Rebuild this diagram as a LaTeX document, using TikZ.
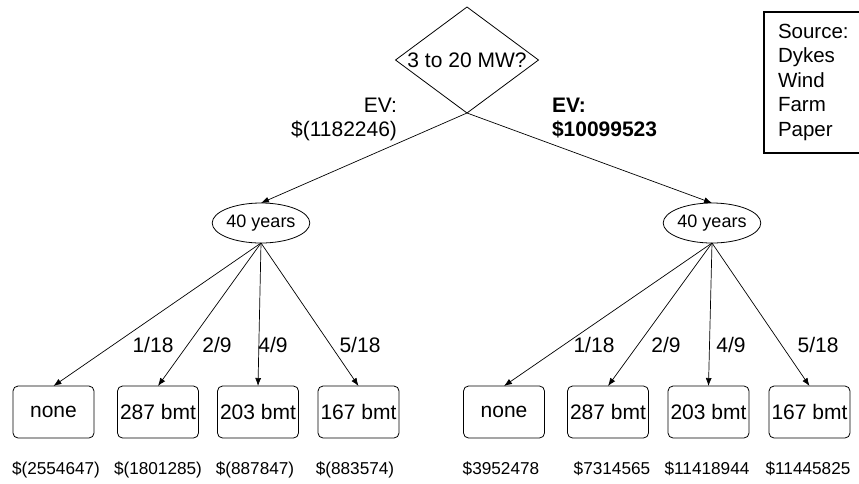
\documentclass[tikz,border=0pt]{standalone}
\usepackage{fontspec}
\setmainfont{Liberation Sans}
\usetikzlibrary{shapes.geometric,arrows.meta}
\begin{document}
\begin{tikzpicture}[x=1pt,y=-1pt,
  every node/.style={inner sep=0pt, outer sep=0pt},
  main/.style={font=\fontsize{21}{24}\selectfont},
  decision/.style={diamond, draw, line width=0.8pt, minimum width=143pt, minimum height=106pt},
  chance/.style={ellipse, draw, line width=0.8pt, minimum width=88pt, minimum height=40pt, font=\fontsize{18}{21}\selectfont},
  outcome/.style={rectangle, draw, rounded corners=5pt, line width=0.8pt, minimum width=81pt, minimum height=52pt, main},
  val/.style={anchor=base, font=\fontsize{17.2}{20}\selectfont},
  prob/.style={main},
  conn/.style={draw, line width=0.7pt, -{Latex[length=8pt,width=6pt]}}
]
\useasboundingbox (0,0) rectangle (859,483);
\clip (0,0) rectangle (859,483);

% decision
\node[decision, label={[main]center:3 to 20 MW?}] (q) at (467,60) {};

% source box
\node[draw, line width=2pt, anchor=north west, align=left, text width=110pt,
      inner xsep=14pt, inner ysep=12pt, font=\fontsize{20.5}{24.5}\selectfont]
      (src) at (764,12) {Source:\\Dykes\\Wind\\Farm\\Paper};

% EV labels
\node[main, anchor=base east] (evl1) at (397,112) {EV:};
\node[main, anchor=base east] (evl2) at (397,136) {\$(1182246)};
\node[anchor=base west, font=\fontsize{21}{24}\selectfont\bfseries] (evr1) at (552,112) {EV:};
\node[anchor=base west, font=\fontsize{21}{24}\selectfont\bfseries] (evr2) at (552,136) {\$10099523};

% chance nodes
\node[chance] (cl) at (261,223) {40 years};
\node[chance] (cr) at (712,223) {40 years};

% outcome boxes
\node[outcome] (l1) at (53.5,412) {none};
\node[outcome] (l2) at (158,412) {287 bmt};
\node[outcome] (l3) at (258,412) {203 bmt};
\node[outcome] (l4) at (358.5,412) {167 bmt};
\node[outcome] (r1) at (504,412) {none};
\node[outcome] (r2) at (608,412) {287 bmt};
\node[outcome] (r3) at (708.5,412) {203 bmt};
\node[outcome] (r4) at (809.5,412) {167 bmt};

% connectors
\draw[conn] (q.south) -- (cl.north);
\draw[conn] (q.south) -- (cr.north);
\foreach \b in {l1,l2,l3,l4} \draw[conn] (cl.south) -- (\b.north);
\foreach \b in {r1,r2,r3,r4} \draw[conn] (cr.south) -- (\b.north);

% probabilities
\node[prob] (pl1) at (153,345) {1/18};
\node[prob] (pl2) at (217,345) {2/9};
\node[prob] (pl3) at (273,345) {4/9};
\node[prob] (pl4) at (360,345) {5/18};
\node[prob] (pr1) at (594,345) {1/18};
\node[prob] (pr2) at (666,345) {2/9};
\node[prob] (pr3) at (731,345) {4/9};
\node[prob] (pr4) at (818,345) {5/18};

% values
\node[val] (vl1) at (56,474) {\$(2554647)};
\node[val] (vl2) at (158,474) {\$(1801285)};
\node[val] (vl3) at (255,474) {\$(887847)};
\node[val] (vl4) at (355,474) {\$(883574)};
\node[val] (vr1) at (501,474) {\$3952478};
\node[val] (vr2) at (612,474) {\$7314565};
\node[val] (vr3) at (707,474) {\$11418944};
\node[val] (vr4) at (808,474) {\$11445825};
\end{tikzpicture}
\end{document}
